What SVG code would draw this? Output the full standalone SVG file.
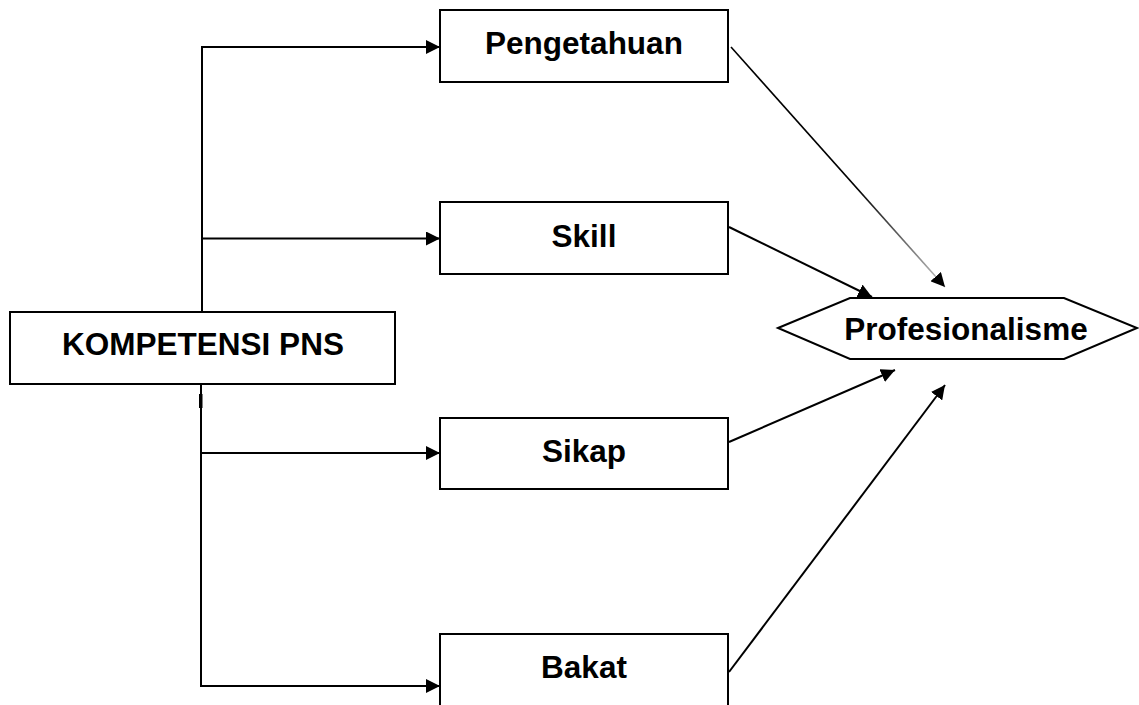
<svg xmlns="http://www.w3.org/2000/svg" width="1139" height="705" viewBox="0 0 1139 705">
<style>
.box{fill:#fff;stroke:#000;stroke-width:2}
.lbl{font-family:"Liberation Sans",Arial,sans-serif;font-weight:bold;font-size:31.5px;fill:#000;text-anchor:middle}
.ln{fill:none;stroke:#000;stroke-width:2}
</style>
<defs>
<marker id="ah" markerUnits="userSpaceOnUse" markerWidth="15" markerHeight="14" refX="14" refY="7" orient="auto">
<path d="M0,0 L14,7 L0,14 z" fill="#000"/>
</marker>
<linearGradient id="fade" gradientUnits="userSpaceOnUse" x1="731" y1="47" x2="940" y2="282">
<stop offset="0" stop-color="#000"/>
<stop offset="0.6" stop-color="#000"/>
<stop offset="1" stop-color="#bbb"/>
</linearGradient>
</defs>
<rect width="1139" height="705" fill="#fff"/>
<g id="connectors">
<line class="ln" x1="202" y1="47" x2="202" y2="312"/>
<line class="ln" x1="201" y1="384" x2="201" y2="686"/>
<rect x="199" y="394" width="3.5" height="14" fill="#000"/>
<line class="ln" x1="201" y1="47" x2="440" y2="47" marker-end="url(#ah)"/>
<line class="ln" x1="201" y1="238.5" x2="440" y2="238.5" marker-end="url(#ah)"/>
<line class="ln" x1="201" y1="453" x2="440" y2="453" marker-end="url(#ah)"/>
<line class="ln" x1="200" y1="686" x2="440" y2="686" marker-end="url(#ah)"/>
<line x1="731" y1="47" x2="945" y2="287" stroke="url(#fade)" stroke-width="1.6" marker-end="url(#ah)"/>
<line class="ln" x1="729" y1="227" x2="872" y2="297" stroke-width="3" marker-end="url(#ah)"/>
<line class="ln" x1="729" y1="442" x2="895" y2="370" marker-end="url(#ah)"/>
<line class="ln" x1="729" y1="672" x2="945" y2="385" stroke-width="2.5" marker-end="url(#ah)"/>
</g>
<g id="kompetensi">
<rect class="box" x="10" y="312" width="385" height="72"/>
<text class="lbl" x="203" y="355">KOMPETENSI PNS</text>
</g>
<g id="pengetahuan">
<rect class="box" x="440" y="10" width="288" height="72"/>
<text class="lbl" x="584" y="53.5">Pengetahuan</text>
</g>
<g id="skill">
<rect class="box" x="440" y="202" width="288" height="72"/>
<text class="lbl" x="584" y="246.5">Skill</text>
</g>
<g id="sikap">
<rect class="box" x="440" y="418" width="288" height="71"/>
<text class="lbl" x="584" y="461.5">Sikap</text>
</g>
<g id="bakat">
<rect class="box" x="440" y="634" width="288" height="100"/>
<text class="lbl" x="584" y="678">Bakat</text>
</g>
<g id="profesionalisme">
<polygon class="box" points="778,328 850,298 1064,298 1137,328 1064,359 850,359"/>
<text class="lbl" x="966" y="340">Profesionalisme</text>
</g>
</svg>
